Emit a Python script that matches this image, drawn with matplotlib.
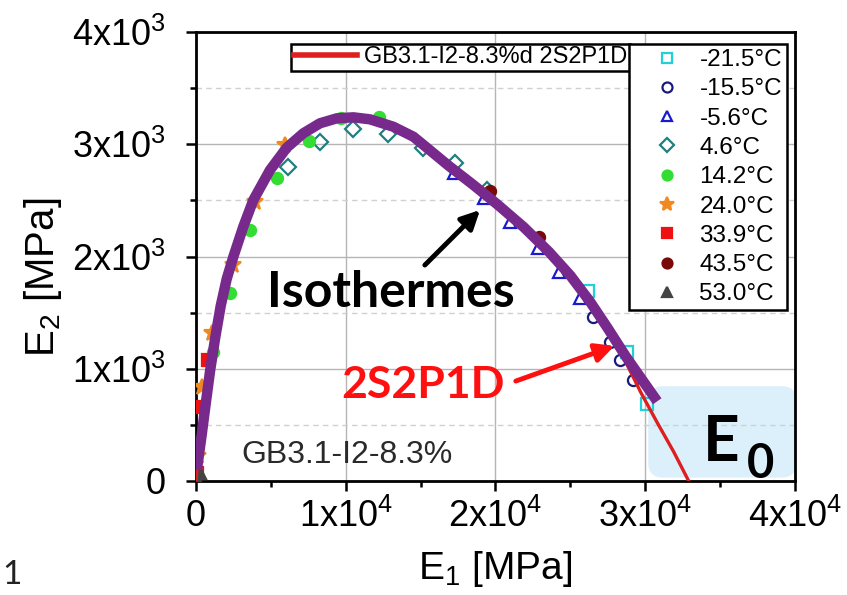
import matplotlib
matplotlib.use('Agg')
import matplotlib.pyplot as plt
from matplotlib.patches import FancyBboxPatch
from matplotlib.ticker import MultipleLocator, FuncFormatter

plt.rcParams['font.family'] = ['Liberation Sans', 'DejaVu Sans']
plt.rcParams['mathtext.fontset'] = 'custom'
plt.rcParams['mathtext.rm'] = 'Liberation Sans'
plt.rcParams['mathtext.it'] = 'Liberation Sans:italic'
plt.rcParams['mathtext.bf'] = 'Liberation Sans:bold'

# 2S2P1D model curve (E1, E2) in MPa
model_e1 = [0, 60, 380, 650, 950, 1300, 1650, 2050, 2500, 3160, 3830, 4940, 6060, 7170,
            8280, 9400, 10510, 11620, 13180, 14520, 15500, 16860, 18500, 20170, 21900,
            23580, 25000, 26300, 27500, 28700, 29700, 30800, 31900, 32900]
model_e2 = [0, 100, 410, 690, 990, 1290, 1560, 1800, 2000, 2266, 2503, 2770, 2970, 3098,
            3187, 3231, 3240, 3222, 3156, 3067, 2965, 2815, 2645, 2465, 2265,
            2045, 1835, 1600, 1350, 1060, 790, 520, 260, 0]

# isotherm envelope (thick purple)
iso_e1 = [60, 380, 650, 950, 1300, 1650, 2050, 2500, 3160, 3830, 4940, 6060, 7170,
          8280, 9400, 10510, 11620, 13180, 14520, 15500, 16860, 18500, 20170, 21900,
          23580, 25000, 26300, 27500, 28700, 29800, 30800]
iso_e2 = [100, 410, 690, 990, 1290, 1560, 1800, 2000, 2266, 2503, 2770, 2970, 3098,
          3187, 3231, 3240, 3222, 3156, 3067, 2960, 2810, 2640, 2459, 2260,
          2040, 1830, 1600, 1360, 1110, 900, 710]

temps = ['-21.5°C', '-15.5°C', '-5.6°C', '4.6°C', '14.2°C', '24.0°C', '33.9°C', '43.5°C', '53.0°C']
pts_e1 = [
    [26200, 28800, 30100],
    [26500, 27650, 28300, 29200],
    [17200, 19250, 21000, 22850, 24250, 25650],
    [6150, 8250, 10500, 12800, 15150, 17300, 19450],
    [1130, 2270, 3600, 5400, 7550, 9700, 12250],
    [150, 400, 1070, 2470, 3950, 5950],
    [60, 130, 800],
    [19600, 22900],
    [50, 270],
]
pts_e2 = [
    [1690, 1150, 690],
    [1460, 1240, 1080, 900],
    [2740, 2520, 2310, 2080, 1860, 1630],
    [2800, 3020, 3135, 3090, 2965, 2830, 2590],
    [1150, 1675, 2240, 2700, 3030, 3230, 3240],
    [220, 840, 1320, 1925, 2490, 2990],
    [70, 660, 1080],
    [2580, 2170],
    [10, 70],
]
markers = ['s', 'o', '^', 'D', 'o', '*', 's', 'o', '^']
colors = ['#22d0d8', '#1a1a7a', '#1a1ad0', '#1f7f7f', '#33dd33', '#f08a20', '#ee1111', '#7a0a0a', '#444444']
filled = [False, False, False, False, True, True, True, True, True]

fig = plt.figure(figsize=(8.47, 5.95), dpi=100)
ax = fig.add_axes([0.2314, 0.1916, 0.7072, 0.7546])

ax.add_patch(FancyBboxPatch((30200, 30), 9900, 815, boxstyle='round,pad=0,rounding_size=1000',
                            mutation_aspect=0.134, facecolor='#dcf0fb', edgecolor='none',
                            zorder=0.5, clip_on=False))

handles = []
for i in range(len(temps)):
    fc = colors[i] if filled[i] else 'none'
    ms = 12 if markers[i] == '*' else 8
    h, = ax.plot(pts_e1[i], pts_e2[i], linestyle='none', marker=markers[i], markersize=ms,
                 markerfacecolor=fc, markeredgecolor=colors[i], markeredgewidth=1.6,
                 label=temps[i], zorder=3)
    handles.append(h)

model_line, = ax.plot(model_e1, model_e2, color='#dd1f1f', lw=2.4, zorder=4,
                      label='GB3.1-I2-8.3%d 2S2P1D')
ax.plot(iso_e1, iso_e2, color='#772a8c', lw=7.5, solid_capstyle='butt',
        solid_joinstyle='round', zorder=5)

ax.set_xlim(0, 40000)
ax.set_ylim(0, 4000)
ax.xaxis.set_major_locator(MultipleLocator(10000))
ax.xaxis.set_minor_locator(MultipleLocator(5000))
ax.yaxis.set_major_locator(MultipleLocator(1000))
ax.yaxis.set_minor_locator(MultipleLocator(500))


def fmt(exp):
    def f(v, pos):
        if v == 0:
            return '0'
        return r'$\mathregular{%dx10^{%d}}$' % (round(v / 10 ** exp), exp)
    return f


ax.xaxis.set_major_formatter(FuncFormatter(fmt(4)))
ax.yaxis.set_major_formatter(FuncFormatter(fmt(3)))
ax.tick_params(which='both', direction='out', labelsize=26, colors='black', width=1.8)
ax.tick_params(axis='y', which='major', length=7, pad=15)
ax.tick_params(axis='x', which='major', length=7, pad=6)
ax.tick_params(which='minor', length=4.5)
ax.grid(which='major', color='#b5b5b5', lw=1.0)
ax.grid(which='minor', axis='y', color='#d0d0d0', lw=1.0, linestyle=(0, (4, 3)))
ax.set_axisbelow(True)
for s in ax.spines.values():
    s.set_linewidth(2)

ax.set_xlabel(r'E$_\mathregular{1}$ [MPa]', fontsize=28, labelpad=10)
ax.set_ylabel(r'E$_\mathregular{2}$ [MPa]', fontsize=29)
ax.yaxis.set_label_coords(-0.22, 0.454)

leg1 = ax.legend(handles=[model_line], loc='upper right', bbox_to_anchor=(0.7245, 0.973),
                 fontsize=17, frameon=True, fancybox=False, edgecolor='black', framealpha=1,
                 handlelength=2.7, borderpad=0.1, handletextpad=0.3, borderaxespad=0)
leg1.get_frame().set_linewidth(1.8)
leg1.get_lines()[0].set_linewidth(4)
ax.add_artist(leg1)
leg2 = ax.legend(handles=handles, loc='upper right', bbox_to_anchor=(0.9866, 0.973),
                 fontsize=17.5, frameon=True, fancybox=False, edgecolor='black', framealpha=1,
                 handlelength=2.7, handletextpad=0.0, labelspacing=0.3, borderpad=0.2,
                 borderaxespad=0, markerscale=0.9)
leg2.get_frame().set_linewidth(1.8)
leg2.set_zorder(6)

ax.text(10090, 232, 'GB3.1-I2-8.3%', fontsize=23, color='#2a2a2a', ha='center', va='center', zorder=6)
ax.text(13030, 1675, 'Isothermes', fontsize=36, fontweight='bold', family='Lato',
        ha='center', va='center', zorder=6)
ax.annotate('', xy=(19100, 2432), xytext=(15150, 1906),
            arrowprops=dict(arrowstyle='-|>', color='black', lw=3.5, mutation_scale=28), zorder=6)
ax.text(15160, 855, '2S2P1D', fontsize=32, fontweight='bold', family='Lato', color='#ff1010',
        ha='center', va='center', zorder=6)
ax.annotate('', xy=(28120, 1212), xytext=(21180, 882),
            arrowprops=dict(arrowstyle='-|>', color='#ff1010', lw=3.5, mutation_scale=28), zorder=6)
ax.text(35070, 347, 'E', fontsize=46, fontweight='bold', family='Lato', ha='center', va='center', zorder=6)
ax.text(37700, 150, '0', fontsize=34, fontweight='bold', family='Lato', ha='center', va='center', zorder=6)

fig.text(0.003, 0.018, '1', fontsize=24, family='Lato', color='#222222')

fig.savefig('out.png', dpi=100)
